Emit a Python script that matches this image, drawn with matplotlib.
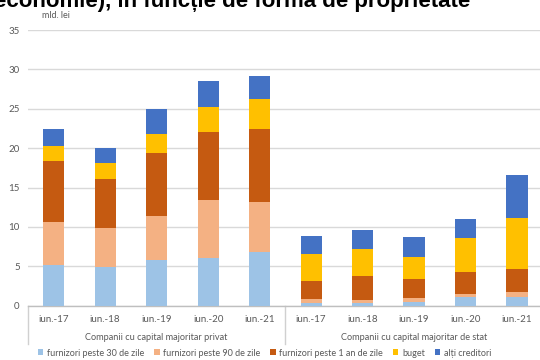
import matplotlib
matplotlib.use("Agg")
import matplotlib.pyplot as plt
import matplotlib.transforms as mtransforms
import numpy as np

plt.rcParams['font.family'] = ['Lato', 'DejaVu Sans']

periods = ["iun.-17", "iun.-18", "iun.-19", "iun.-20", "iun.-21"]
groups = ["Companii cu capital majoritar privat", "Companii cu capital majoritar de stat"]
series_names = ["furnizori peste 30 de zile", "furnizori peste 90 de zile",
                "furnizori peste 1 an de zile", "buget", "alți creditori"]
colors = ["#9DC3E6", "#F4B183", "#C55A11", "#FFC000", "#4472C4"]

# mld. lei, private companies then state companies
furnizori_30 = [5.13, 4.96, 5.85, 6.10, 6.78, 0.30, 0.30, 0.43, 1.10, 1.07]
furnizori_90 = [5.54, 4.87, 5.59, 7.29, 6.36, 0.51, 0.38, 0.57, 0.42, 0.63]
furnizori_1an = [7.75, 6.31, 7.92, 8.66, 9.27, 2.37, 3.05, 2.35, 2.80, 2.96]
buget = [1.91, 2.03, 2.42, 3.15, 3.89, 3.42, 3.51, 2.88, 4.24, 6.44]
alti_creditori = [2.07, 1.83, 3.17, 3.31, 2.85, 2.22, 2.38, 2.46, 2.46, 5.55]

series = [furnizori_30, furnizori_90, furnizori_1an, buget, alti_creditori]

fig = plt.figure(figsize=(5.4, 3.6), dpi=100)
ax = fig.add_axes([28 / 540, 1 - 305.7 / 360, 1 - 28 / 540 + 0.005, (305.7 - 30) / 360])

n = len(furnizori_30)
x = np.arange(n)
bottom = np.zeros(n)
for vals, col, name in zip(series, colors, series_names):
    ax.bar(x, vals, width=0.41, bottom=bottom, color=col, label=name, zorder=3)
    bottom += np.array(vals)

ax.set_xlim(-0.5, n - 0.5)
ax.set_ylim(0, 35)
ax.set_yticks(range(0, 36, 5))
ax.yaxis.grid(True, color="#D9D9D9", linewidth=1.0, zorder=0)
ax.set_axisbelow(True)
for s in ["left", "right", "top"]:
    ax.spines[s].set_visible(False)
ax.spines["bottom"].set_color("#BFBFBF")
ax.spines["bottom"].set_linewidth(1.0)
ax.tick_params(axis="y", length=0, labelsize=7, labelcolor="#595959", pad=6)
ax.tick_params(axis="x", length=0, labelsize=7, labelcolor="#595959", pad=7)
ax.set_xticks(x)
ax.set_xticklabels(periods * 2)

trans = mtransforms.blended_transform_factory(ax.transData, fig.transFigure)
# group labels and separators of the two-level category axis
for i, g in enumerate(groups):
    ax.text(i * 5 + 2, 1 - 338 / 360, g, transform=trans, ha="center", va="center",
            fontsize=6.6, color="#595959")
for xs in [-0.5, 4.5, 9.5]:
    ax.plot([xs, xs], [1 - 306 / 360, 1 - 344 / 360], transform=trans, color="#D0D0D0",
            linewidth=1.0, clip_on=False)

fig.text(42 / 540, 1 - 15.5 / 360, "mld. lei", fontsize=6.5, color="#595959", va="center")

fig.text(-0.012, 1 - 7.5 / 360, "economie), în funcție de forma de proprietate",
         fontsize=16, fontweight="bold", color="#000000", va="baseline", ha="left",
         family=["Liberation Sans", "DejaVu Sans"])

handles, labels = ax.get_legend_handles_labels()
leg = fig.legend(handles, labels, loc="center", bbox_to_anchor=(0.49, 1 - 353 / 360), ncol=5,
                 frameon=False, fontsize=6.5, handlelength=0.6, handleheight=0.6,
                 handletextpad=0.4, columnspacing=1.1, labelcolor="#595959")

fig.savefig("out.png", dpi=100)
